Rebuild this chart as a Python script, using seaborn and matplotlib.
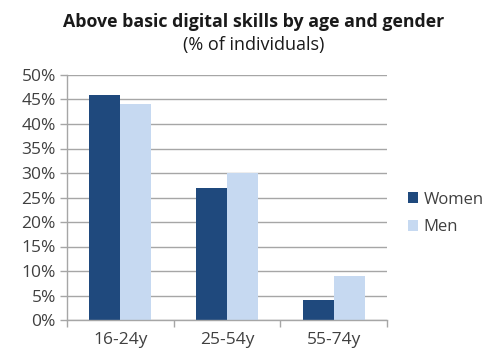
import matplotlib
matplotlib.use("Agg")
import matplotlib.pyplot as plt
import seaborn as sns
import pandas as pd
from matplotlib.ticker import FixedLocator, FuncFormatter

categories = ["16-24y", "25-54y", "55-74y"]
women = [46, 27, 4]
men = [44, 30, 9]
series_names = ["Women", "Men"]
colors = ["#1F497D", "#C6D9F1"]

df = pd.DataFrame({
    "age": categories * 2,
    "value": women + men,
    "gender": [series_names[0]] * 3 + [series_names[1]] * 3,
})

sns.set_theme(style="white")
plt.rcParams["font.family"] = ["Open Sans", "DejaVu Sans"]

fig = plt.figure(figsize=(4.94, 3.55), dpi=100)
ax = fig.add_axes([67/494, 1-320/355, (387-67)/494, (320-75)/355])

sns.barplot(data=df, x="age", y="value", hue="gender", palette=colors,
            width=0.58, ax=ax, saturation=1, edgecolor="none")

ax.set_xlim(-0.5, 2.5)
ax.set_ylim(0, 50)
ax.set_yticks(range(0, 51, 5))
ax.yaxis.set_major_formatter(FuncFormatter(lambda v, p: f"{int(v)}%"))
ax.yaxis.grid(True, color="#A6A6A6", linewidth=1)
ax.set_axisbelow(True)
ax.set_xlabel("")
ax.set_ylabel("")

for s in ["top", "right"]:
    ax.spines[s].set_visible(False)
for s in ["left", "bottom"]:
    ax.spines[s].set_color("#A6A6A6")
    ax.spines[s].set_linewidth(1)

ax.tick_params(axis="y", which="major", length=5, color="#A6A6A6", width=1,
               labelsize=12.5, labelcolor="#404040", pad=3, direction="out", left=True)
ax.tick_params(axis="x", which="major", length=0, labelsize=12.5, labelcolor="#404040", pad=9)
ax.xaxis.set_minor_locator(FixedLocator([-0.5, 0.5, 1.5, 2.5]))
ax.tick_params(axis="x", which="minor", length=5, color="#A6A6A6", width=1, direction="out", bottom=True)

leg = ax.legend(loc="center left", bbox_to_anchor=(1.02, 0.435), frameon=False,
                fontsize=12, handlelength=0.6, handleheight=0.6, labelspacing=0.7,
                handletextpad=0.3, labelcolor="#404040")

fig.text(254/494, 1-22/355, "Above basic digital skills by age and gender", ha="center", va="center",
         fontsize=12.8, fontweight="bold", color="#1a1a1a")
fig.text(254/494, 1-45/355, "(% of individuals)", ha="center", va="center",
         fontsize=13, color="#1a1a1a")

fig.savefig("out.png", dpi=100)
